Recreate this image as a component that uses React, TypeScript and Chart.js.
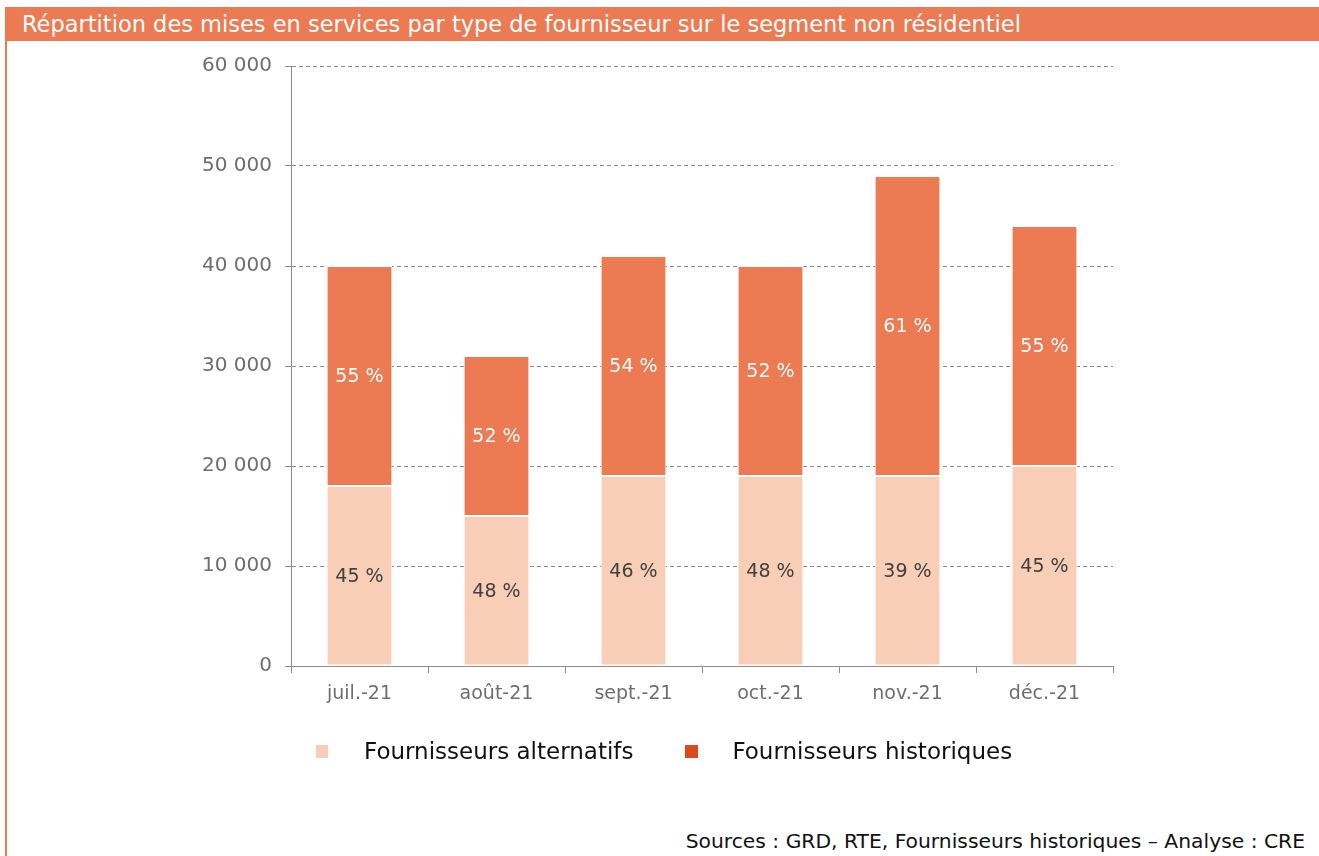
import React, { useEffect, useRef } from "react";
import { Chart, registerables } from "chart.js";

Chart.register(...registerables);

const categories = ["juil.-21", "août-21", "sept.-21", "oct.-21", "nov.-21", "déc.-21"];
const alternatifs = [18000, 15000, 19000, 19000, 19000, 20000];
const historiques = [22000, 16000, 22000, 21000, 30000, 24000];
const pctAlternatifs = ["45 %", "48 %", "46 %", "48 %", "39 %", "45 %"];
const pctHistoriques = ["55 %", "52 %", "54 %", "52 %", "61 %", "55 %"];
const yTicks = [0, 10000, 20000, 30000, 40000, 50000, 60000];

const FONT = "'DejaVu Sans', Verdana, sans-serif";
const ALT_COLOR = "#F8CEB6";
const HIST_COLOR = "#EC7A52";
const HIST_LEGEND = "#D94A1C";

const fmt = (v: number) => String(v).replace(/\B(?=(\d{3})+(?!\d))/g, " ");

const labelPlugin = {
  id: "segLabels",
  afterDatasetsDraw(chart: any) {
    const ctx = chart.ctx;
    const texts = [pctAlternatifs, pctHistoriques];
    const colors = ["#404040", "#FFFFFF"];
    chart.data.datasets.forEach((ds: any, di: number) => {
      const meta = chart.getDatasetMeta(di);
      meta.data.forEach((bar: any, i: number) => {
        const { x, y, base } = bar.getProps(["x", "y", "base"], true);
        ctx.save();
        ctx.font = `19px ${FONT}`;
        ctx.fillStyle = colors[di];
        ctx.textAlign = "center";
        ctx.textBaseline = "middle";
        ctx.fillText(texts[di][i], x, (y + base) / 2 + 1);
        ctx.restore();
      });
    });
  },
};

export default function App() {
  const ref = useRef<HTMLCanvasElement>(null);
  useEffect(() => {
    document.body.style.margin = "0";
    const chart = new Chart(ref.current!, {
      type: "bar",
      data: {
        labels: categories,
        datasets: [
          {
            label: "Fournisseurs alternatifs",
            data: alternatifs,
            backgroundColor: ALT_COLOR,
            borderColor: "#FFFFFF",
            borderWidth: 1,
            borderSkipped: false,
          },
          {
            label: "Fournisseurs historiques",
            data: historiques,
            backgroundColor: HIST_COLOR,
            borderColor: "#FFFFFF",
            borderWidth: 1,
            borderSkipped: false,
          },
        ],
      },
      options: {
        animation: false,
        responsive: false,
        maintainAspectRatio: false,
        layout: { padding: { top: 0, right: 206, bottom: 15, left: 0 } },
        plugins: { legend: { display: false }, tooltip: { enabled: false } },
        datasets: { bar: { categoryPercentage: 1, barPercentage: 0.48 } },
        scales: {
          x: {
            stacked: true,
            offset: true,
            grid: {
              display: true,
              drawOnChartArea: false,
              offset: true,
              tickLength: 7,
              color: "#8C8C8C",
            },
            border: { display: true, color: "#8C8C8C", width: 1 },
            ticks: {
              color: "#6E6E6E",
              font: { family: FONT, size: 19 },
              padding: 10,
            },
            afterFit: (s: any) => {
              s.height = 60;
            },
          },
          y: {
            stacked: true,
            min: 0,
            max: 60000,
            afterBuildTicks: (s: any) => {
              s.ticks = yTicks.map((v) => ({ value: v }));
            },
            grid: {
              color: (c: any) => (c.tick && c.tick.value === 0 ? "rgba(0,0,0,0)" : "#8C8C8C"),
              tickColor: "#8C8C8C",
              tickBorderDash: [],
              tickLength: 6,
              lineWidth: 1,
            },
            border: { display: true, color: "#8C8C8C", width: 1, dash: [4, 3] },
            ticks: {
              color: "#6E6E6E",
              font: { family: FONT, size: 20 },
              padding: 13,
              callback: (v: any) => fmt(Number(v)),
            },
            afterFit: (s: any) => {
              s.width = 291;
            },
          },
        },
      },
      plugins: [labelPlugin],
    });
    return () => chart.destroy();
  }, []);

  return (
    <div style={{ position: "relative", width: 1319, height: 856, background: "#fff", overflow: "hidden", fontFamily: FONT }}>
      <div style={{ position: "absolute", left: 5, top: 7, width: 2, height: 849, background: "#EC7A52" }} />
      <div
        style={{
          position: "absolute",
          left: 5,
          top: 7,
          width: 1314,
          height: 34,
          background: "#EC7A52",
          color: "#fff",
          fontSize: 22.5,
          lineHeight: "34px",
          paddingLeft: 17,
          boxSizing: "border-box",
          whiteSpace: "nowrap",
        }}
      >
        Répartition des mises en services par type de fournisseur sur le segment non résidentiel
      </div>
      <canvas ref={ref} width={1319} height={700} style={{ position: "absolute", left: 0, top: 41, width: 1319, height: 700 }} />
      <div style={{ position: "absolute", left: 316, top: 738, display: "flex", alignItems: "center", fontSize: 23, color: "#111", whiteSpace: "nowrap" }}>
        <span style={{ display: "inline-block", width: 12, height: 13, background: ALT_COLOR }} />
        <span style={{ marginLeft: 36 }}>Fournisseurs alternatifs</span>
        <span style={{ display: "inline-block", width: 13, height: 13, background: HIST_LEGEND, marginLeft: 52 }} />
        <span style={{ marginLeft: 34 }}>Fournisseurs historiques</span>
      </div>
      <div style={{ position: "absolute", right: 14, top: 829, fontSize: 20.3, color: "#111", whiteSpace: "nowrap" }}>
        Sources : GRD, RTE, Fournisseurs historiques – Analyse : CRE
      </div>
    </div>
  );
}
